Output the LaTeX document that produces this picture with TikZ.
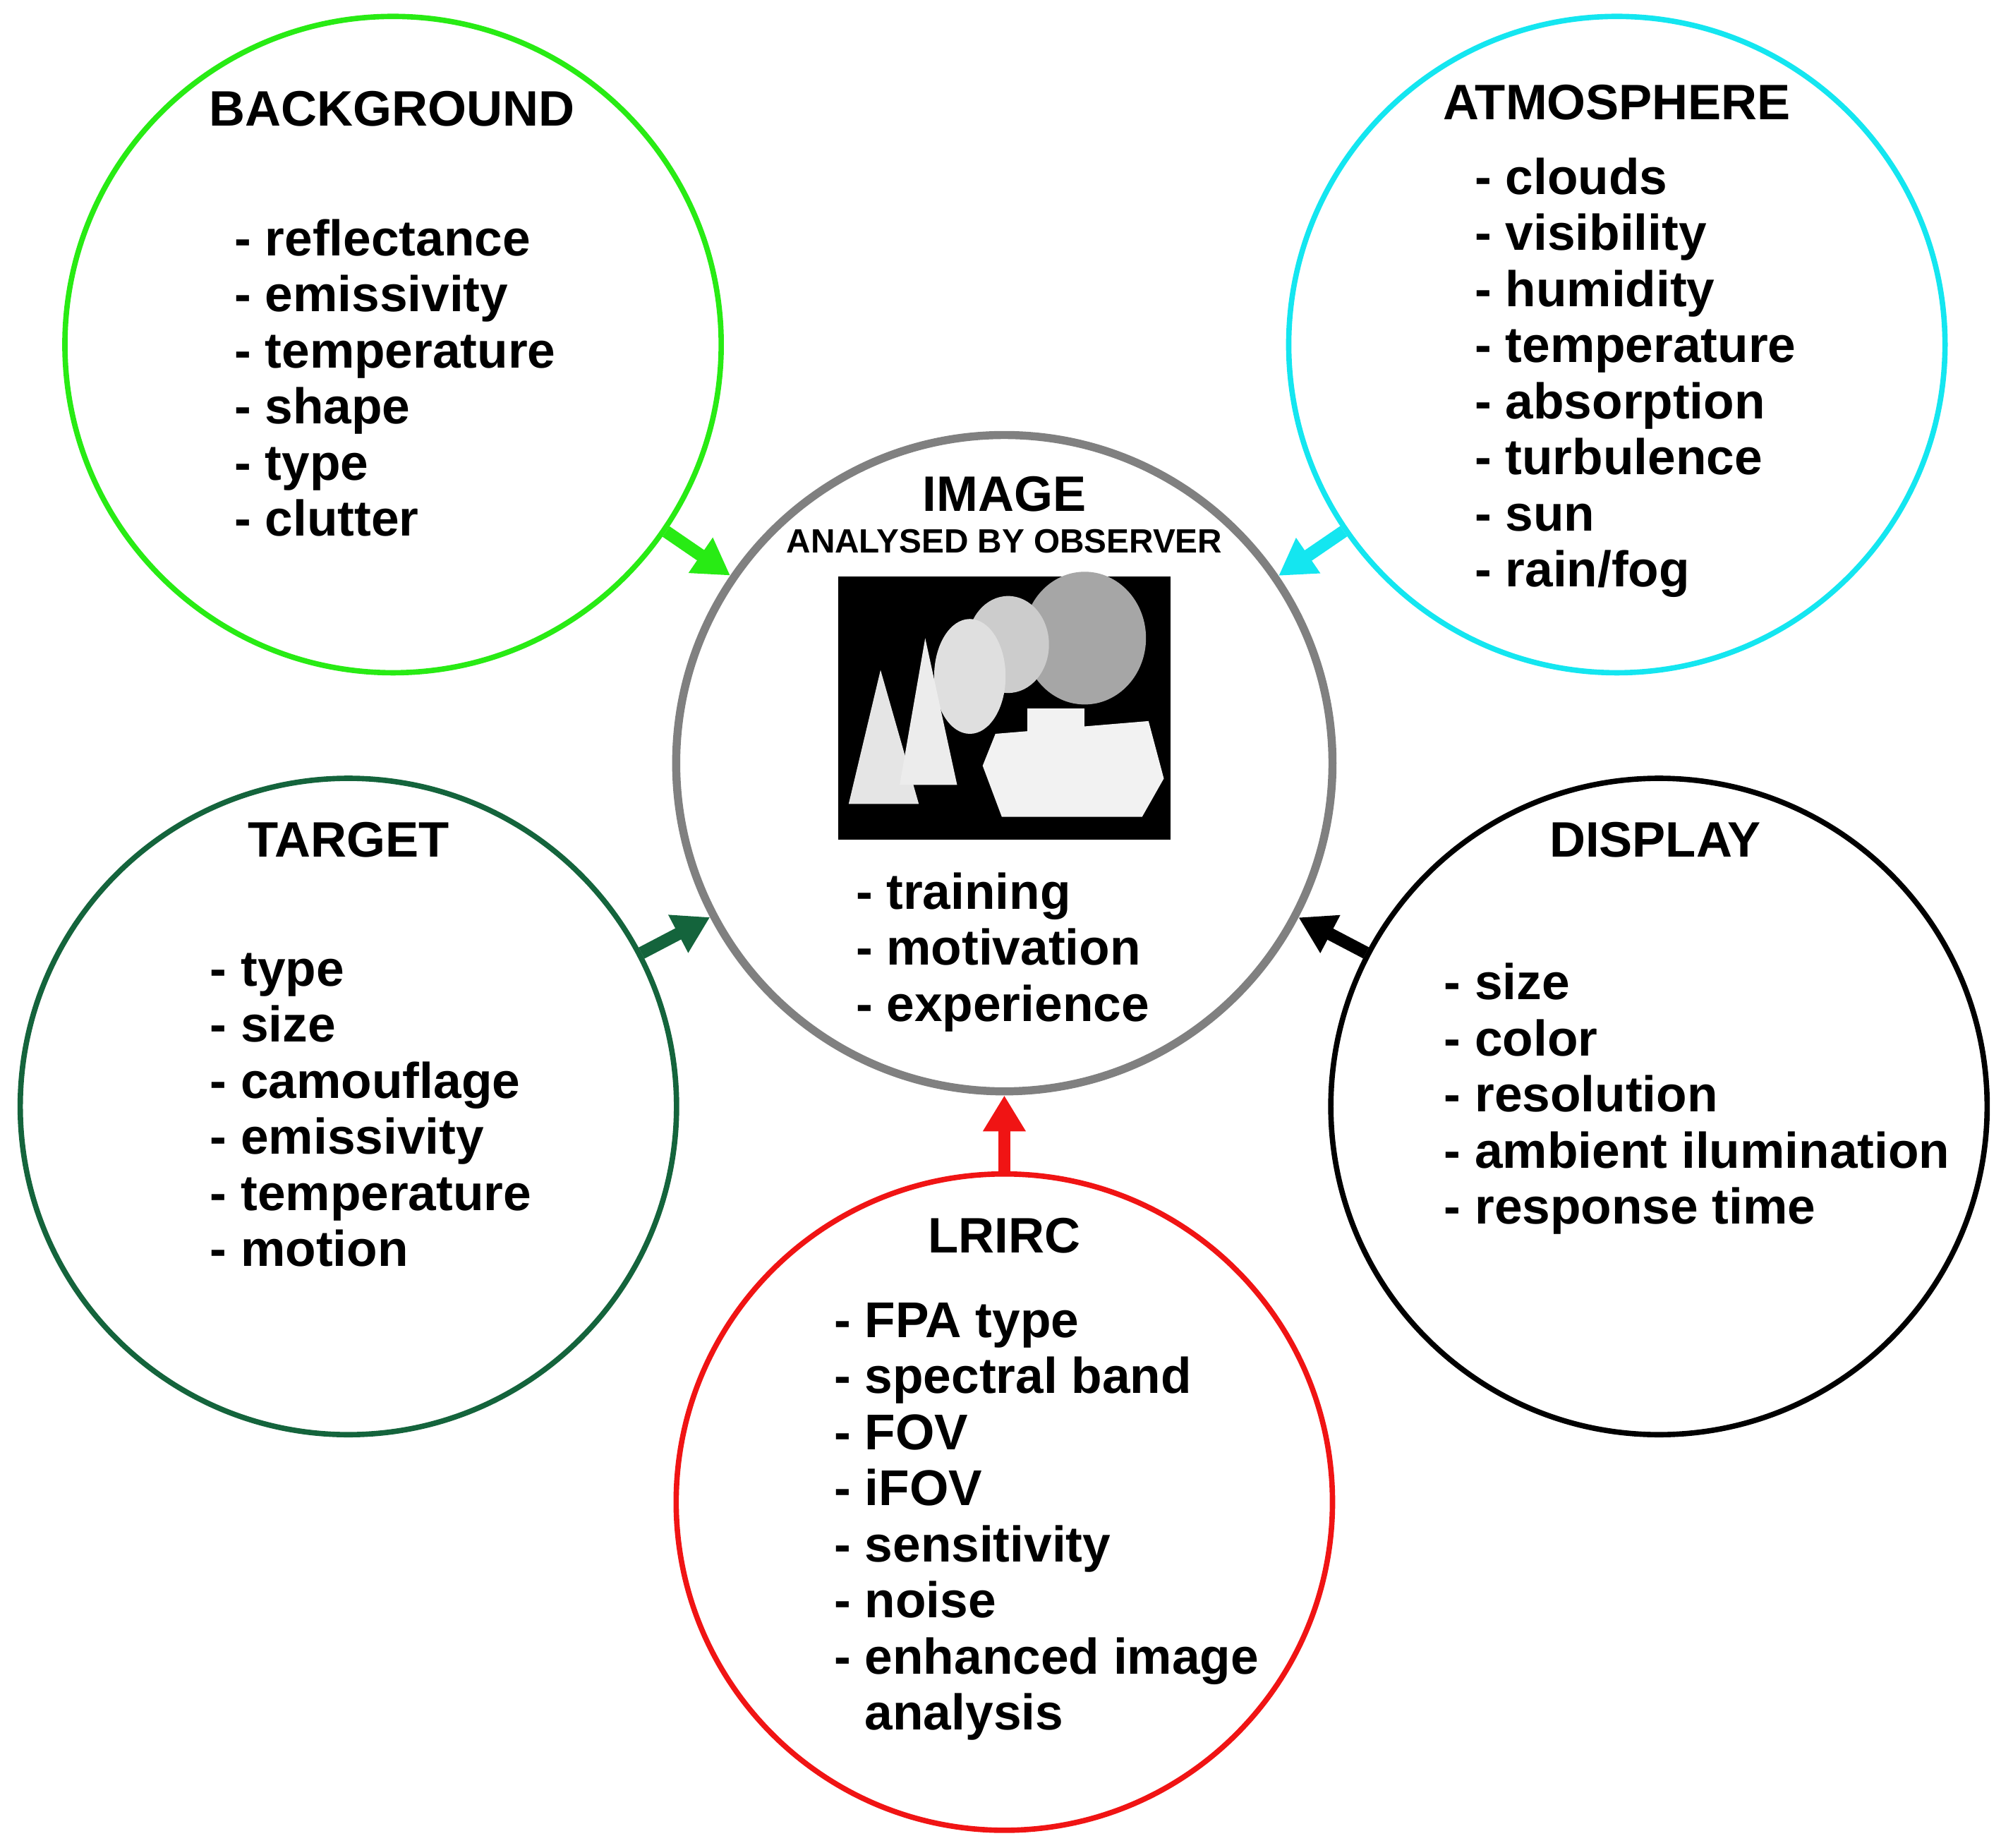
\documentclass[tikz,border=0pt]{standalone}
\usepackage{fontspec}
\setmainfont{Liberation Sans}
\usetikzlibrary{arrows.meta}
\begin{document}
\begin{tikzpicture}[x=0.01cm,y=-0.01cm]
    \definecolor{bggreen}{RGB}{40,235,20};
    \definecolor{atmcyan}{RGB}{20,230,240};
    \definecolor{tgtgreen}{RGB}{20,100,60};
    \definecolor{lrred}{RGB}{240,20,20};
    \definecolor{imggray}{RGB}{128,128,128};
\tikzset{factor/.style={draw,circle,line width=1.2pt,minimum size=5.14cm,inner sep=0pt},
  title/.style={font=\fontsize{11.1}{12}\selectfont\bfseries},
  items/.style={anchor=north west,align=left,inner sep=0pt,font=\fontsize{11.2}{12.5}\selectfont\bfseries},
  link/.style={line width=2.8pt,-{Triangle[length=8pt,width=9pt]}}}
\useasboundingbox (0,0) rectangle (1568,1448);
% factor circles
\node [factor,draw=bggreen] (bg) at (308,270) {};
\node [factor,draw=atmcyan] (atm) at (1267,270) {};
\node [factor,draw=imggray,line width=1.8pt] (img) at (787,598) {};
\node [factor,draw=tgtgreen] (tgt) at (273,867) {};
\node [factor,draw=black] (disp) at (1300,867) {};
\node [factor,draw=lrred] (lr) at (787,1177) {};
% texts
\node [title] (bgt) at (307,85) {BACKGROUND};
\node [items] (bgl) at (183,171) {- reflectance\\- emissivity\\- temperature\\- shape\\- type\\- clutter};
\node [title] (atmt) at (1267,80) {ATMOSPHERE};
\node [items] (atml) at (1155,123) {- clouds\\- visibility\\- humidity\\- temperature\\- absorption\\- turbulence\\- sun\\- rain/fog};
\node [title] (imgt) at (787,387) {IMAGE};
\node [font=\fontsize{7.5}{8}\selectfont\bfseries] (imgs) at (787,424) {ANALYSED BY OBSERVER};
\node [items] (imgl) at (670,683) {- training\\- motivation\\- experience};
\node [title] (tgtt) at (273,658) {TARGET};
\node [items] (tgtl) at (164,746) {- type\\- size\\- camouflage\\- emissivity\\- temperature\\- motion};
\node [title] (dispt) at (1297,658) {DISPLAY};
\node [items] (displ) at (1131,754) {- size\\- color\\- resolution\\- ambient ilumination\\- response time};
\node [title] (lrt) at (787,968) {LRIRC};
\node [items] (lrl) at (653,1020) {- FPA type\\- spectral band\\- FOV\\- iFOV\\- sensitivity\\- noise\\- enhanced image\\\phantom{-} analysis};
% scene
\node [fill=black,minimum width=2.6cm,minimum height=2.06cm,inner sep=0pt] (scene) at (787,555) {};
\fill [gray!70] (850,500) ellipse (48 and 52);
\fill [gray!40] (790,505) ellipse (32 and 38);
\fill [gray!25] (760,530) ellipse (28 and 45);
\fill [gray!20] (690,525) -- (665,630) -- (720,630) -- cycle;
\fill [gray!15] (725,500) -- (705,615) -- (750,615) -- cycle;
\fill [gray!10] (780,575) -- (900,565) -- (912,610) -- (895,640) -- (785,640) -- (770,600) -- cycle;
\fill [gray!10] (805,555) rectangle (850,575);
% links
\draw [link,bggreen] (bg) -- (img);
\draw [link,atmcyan] (atm) -- (img);
\draw [link,tgtgreen] (tgt) -- (img);
\draw [link,black] (disp) -- (img);
\draw [link,lrred] (lr) -- (img);
\end{tikzpicture}
\end{document}
